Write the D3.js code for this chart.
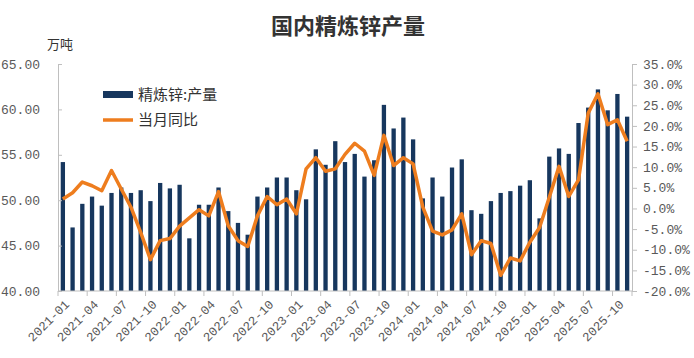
<!DOCTYPE html>
<html><head><meta charset="utf-8">
<script src="https://cdn.jsdelivr.net/npm/d3@7/dist/d3.min.js"></script>
<style>body{margin:0;background:#fff}svg{display:block}</style>
</head><body><svg id="c" width="694" height="358"></svg>
<script>
const months = (function(){const a=[];for(let y=2021;y<=2025;y++)for(let m=1;m<=12;m++){if(y===2025&&m>11)break;a.push(y+"-"+String(m).padStart(2,"0"));}return a;})();
const output = [54.2,47.0,49.6,50.4,49.4,50.8,51.4,50.8,51.1,49.9,51.9,51.3,
  51.7,45.8,49.5,49.5,51.4,48.8,47.5,46.2,50.4,51.4,52.5,52.5,
  51.1,50.1,55.6,53.9,56.5,54.2,55.1,52.6,54.4,60.5,57.9,59.1,
  56.7,50.2,52.5,50.4,53.6,54.5,48.9,48.5,49.9,50.8,51.0,51.6,
  52.2,48.0,54.8,55.7,55.1,58.5,60.2,62.2,59.9,61.7,59.2];
const yoy = [2.3,3.8,6.4,5.5,4.3,9.2,4.7,0.3,-5.8,-12.4,-7.8,-7.3,
  -4.3,-2.3,-0.3,-1.8,4.1,-4.2,-7.8,-9.2,-1.8,2.9,0.9,2.3,
  -1.3,9.6,12.3,9.0,9.6,13.1,15.8,13.9,8.0,17.7,10.4,12.3,
  10.8,0.3,-5.5,-6.4,-5.2,-1.3,-11.2,-7.8,-8.5,-16.2,-12.0,-12.7,
  -8.2,-4.6,2.7,10.2,2.9,6.9,23.1,27.8,20.3,21.5,16.3];
const leftTicks = [40,45,50,55,60,65];
const rightTicks = [-20,-15,-10,-5,0,5,10,15,20,25,30,35];
const title = "国内精炼锌产量";
const unit = "万吨";
const seriesNames = ["精炼锌:产量","当月同比"];

const svg = d3.select("#c");
const L=58,R=632,T=64,B=291;
const x = d3.scaleBand().domain(months).range([L,R]).padding(0);
const yL = d3.scaleLinear().domain([40,65]).range([B,T]);
const yR = d3.scaleLinear().domain([-20,35]).range([B,T]);
const axisColor="#bfbfbf", textColor="#595959";
const mono="'Liberation Mono','DejaVu Sans Mono',monospace";
const cjk="'Noto Sans CJK SC','Noto Sans',sans-serif";

svg.append("text").attr("x",348).attr("y",34).attr("text-anchor","middle")
  .attr("font-family",cjk).attr("font-size",22).attr("font-weight","bold").attr("fill","#333").text(title);
svg.append("text").attr("x",47).attr("y",49).attr("font-family",cjk).attr("font-size",13).attr("fill","#333").text(unit);

// bars
const bw=4.3;
svg.append("g").selectAll("rect").data(output).join("rect")
  .attr("x",(d,i)=>x(months[i])+x.bandwidth()/2-bw/2).attr("width",bw)
  .attr("y",d=>yL(d)).attr("height",d=>B-yL(d)).attr("fill","#17375e");

// axes
const gl=svg.append("g").attr("transform",`translate(${L},0)`).call(d3.axisLeft(yL).tickValues(leftTicks).tickSize(-4).tickPadding(18).tickFormat(d3.format(".2f")));
const gr=svg.append("g").attr("transform",`translate(${R},0)`).call(d3.axisRight(yR).tickValues(rightTicks).tickSize(5).tickPadding(6).tickFormat(d=>d.toFixed(1)+"%"));
[gl,gr].forEach(g=>{g.select(".domain").attr("stroke",axisColor);g.selectAll(".tick line").attr("stroke",axisColor);
  g.selectAll(".tick text").attr("font-family",mono).attr("font-size",13).attr("fill",textColor);});

// x axis
const tickMonths = months.filter((d,i)=>i%3===0);
const gx=svg.append("g").attr("transform",`translate(0,${B})`);
gx.append("line").attr("x1",L).attr("x2",R).attr("stroke",axisColor);
gx.selectAll("line.t").data(tickMonths.concat([null])).join("line").attr("class","t")
  .attr("x1",d=>d?x(d):R).attr("x2",d=>d?x(d):R).attr("y1",0).attr("y2",5).attr("stroke",axisColor);
gx.selectAll("text").data(tickMonths).join("text")
  .attr("transform",d=>`translate(${x(d)+x.bandwidth()/2+4},${11}) rotate(-45)`)
  .attr("text-anchor","end").attr("dy","0.35em").attr("font-family",mono).attr("font-size",12.5).attr("fill",textColor).text(d=>d);

// line
const line=d3.line().x((d,i)=>x(months[i])+x.bandwidth()/2).y(d=>yR(d));
svg.append("path").datum(yoy).attr("d",line).attr("fill","none").attr("stroke","#ee7d1e").attr("stroke-width",3.5).attr("stroke-linejoin","round");

// legend
const lg=svg.append("g");
lg.append("rect").attr("x",103).attr("y",91).attr("width",30).attr("height",7).attr("fill","#17375e");
lg.append("line").attr("x1",103).attr("x2",133).attr("y1",120).attr("y2",120).attr("stroke","#ee7d1e").attr("stroke-width",3.5);
lg.selectAll("text").data(seriesNames).join("text").attr("x",138).attr("y",(d,i)=>95+i*25).attr("dy","0.35em")
  .attr("font-family",cjk).attr("font-size",15).attr("fill","#333").text(d=>d);
</script></body></html>
